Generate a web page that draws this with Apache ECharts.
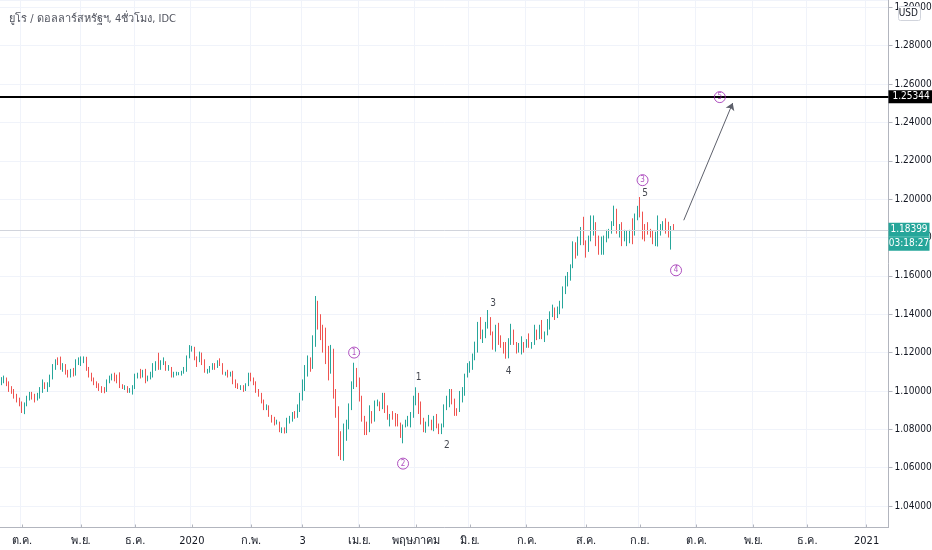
<!DOCTYPE html>
<html><head><meta charset="utf-8">
<script src="https://cdn.jsdelivr.net/npm/echarts@6/dist/echarts.min.js"></script>
<style>html,body{margin:0;padding:0;background:#fff}#c{width:932px;height:550px}</style>
</head><body><div id="c"></div>
<script>
const titleText = 'ยูโร / ดอลลาร์สหรัฐฯ, 4ชั่วโมง, IDC';
const startDate = '2019-09-19';
const totalSlots = 345;
const monthNames = ['', 'ก.พ.', '3', 'เม.ย.', 'พฤษภาคม', 'มิ.ย.', 'ก.ค.', 'ส.ค.', 'ก.ย.', 'ต.ค.', 'พ.ย.', 'ธ.ค.'];
const currencyLabel = 'USD';
const targetLevel = 1.25344;
const lastPrice = 1.18399;
const countdown = '03:18:27';

// daily [open, close, low, high]
const ohlc = [
[1.1045,1.1058,1.1030,1.1072],[1.1058,1.1066,1.1040,1.1080],[1.1066,1.1040,1.1025,1.1070],[1.1040,1.1010,1.0995,1.1050],
[1.1010,1.0998,1.0985,1.1025],[1.0998,1.0975,1.0960,1.1010],[1.0975,1.0958,1.0940,1.0985],[1.0958,1.0935,1.0920,1.0965],
[1.0935,1.0900,1.0885,1.0945],[1.0900,1.0930,1.0879,1.0940],[1.0930,1.0965,1.0920,1.0975],[1.0965,1.0980,1.0950,1.0995],
[1.0980,1.0972,1.0955,1.0995],[1.0972,1.0958,1.0940,1.0985],[1.0958,1.0975,1.0950,1.0990],[1.0975,1.1005,1.0960,1.1020],
[1.1005,1.1030,1.0990,1.1060],[1.1030,1.1025,1.1010,1.1045],[1.1025,1.1035,1.0995,1.1045],[1.1035,1.1070,1.1020,1.1085],
[1.1070,1.1125,1.1060,1.1140],[1.1125,1.1155,1.1110,1.1165],[1.1155,1.1150,1.1135,1.1175],[1.1150,1.1125,1.1110,1.1179],
[1.1125,1.1130,1.1100,1.1145],[1.1130,1.1100,1.1085,1.1140],[1.1100,1.1080,1.1070,1.1110],[1.1080,1.1100,1.1070,1.1115],
[1.1100,1.1085,1.1075,1.1120],[1.1085,1.1150,1.1080,1.1165],[1.1150,1.1152,1.1135,1.1175],[1.1152,1.1165,1.1130,1.1180],
[1.1165,1.1170,1.1145,1.1180],[1.1170,1.1120,1.1105,1.1178],[1.1120,1.1085,1.1070,1.1125],[1.1085,1.1060,1.1050,1.1095],
[1.1060,1.1040,1.1030,1.1070],[1.1040,1.1030,1.1015,1.1050],[1.1030,1.1015,1.1000,1.1040],[1.1015,1.1005,1.0990,1.1025],
[1.1005,1.1000,1.0988,1.1020],[1.1000,1.1050,1.0995,1.1060],[1.1050,1.1070,1.1040,1.1080],[1.1070,1.1075,1.1055,1.1090],
[1.1075,1.1070,1.1050,1.1095],[1.1070,1.1055,1.1040,1.1085],[1.1055,1.1025,1.1015,1.1097],[1.1025,1.1015,1.1010,1.1035],
[1.1015,1.1020,1.1005,1.1030],[1.1020,1.1000,1.0990,1.1025],[1.1000,1.1008,1.0990,1.1015],[1.1008,1.1018,1.0981,1.1030],
[1.1018,1.1080,1.1010,1.1090],[1.1080,1.1082,1.1065,1.1095],[1.1082,1.1078,1.1065,1.1115],[1.1078,1.1105,1.1070,1.1110],
[1.1105,1.1060,1.1040,1.1115],[1.1060,1.1065,1.1050,1.1080],[1.1065,1.1095,1.1060,1.1100],[1.1095,1.1130,1.1070,1.1145],
[1.1130,1.1130,1.1105,1.1155],[1.1130,1.1120,1.1110,1.1199],[1.1120,1.1145,1.1110,1.1160],[1.1145,1.1150,1.1135,1.1175],
[1.1150,1.1115,1.1105,1.1155],[1.1115,1.1120,1.1105,1.1135],[1.1120,1.1080,1.1070,1.1125],[1.1080,1.1090,1.1070,1.1100],
[1.1090,1.1090,1.1080,1.1100],[1.1090,1.1092,1.1082,1.1098],[1.1092,1.1100,1.1080,1.1105],[1.1100,1.1105,1.1090,1.1125],
[1.1105,1.1175,1.1100,1.1185],[1.1175,1.1215,1.1170,1.1239],[1.1215,1.1220,1.1205,1.1235],[1.1220,1.1170,1.1160,1.1230],
[1.1170,1.1160,1.1125,1.1180],[1.1160,1.1195,1.1150,1.1205],[1.1195,1.1150,1.1135,1.1200],[1.1150,1.1105,1.1095,1.1165],
[1.1105,1.1105,1.1090,1.1115],[1.1105,1.1120,1.1095,1.1130],[1.1120,1.1135,1.1110,1.1145],[1.1135,1.1130,1.1110,1.1145],
[1.1130,1.1150,1.1120,1.1160],[1.1150,1.1140,1.1130,1.1170],[1.1140,1.1090,1.1085,1.1145],[1.1090,1.1095,1.1080,1.1100],
[1.1095,1.1085,1.1070,1.1110],[1.1085,1.1090,1.1075,1.1100],[1.1090,1.1055,1.1035,1.1105],[1.1055,1.1025,1.1015,1.1060],
[1.1025,1.1020,1.1010,1.1040],[1.1020,1.1020,1.1005,1.1030],[1.1020,1.1010,1.0995,1.1030],[1.1010,1.1030,1.1000,1.1040],
[1.1030,1.1090,1.1025,1.1095],[1.1090,1.1060,1.1050,1.1095],[1.1060,1.1045,1.1030,1.1070],[1.1045,1.1000,1.0990,1.1050],
[1.1000,1.0980,1.0970,1.1010],[1.0980,1.0945,1.0935,1.0990],[1.0945,1.0910,1.0900,1.0955],[1.0910,1.0915,1.0900,1.0930],
[1.0915,1.0870,1.0865,1.0925],[1.0870,1.0840,1.0835,1.0875],[1.0840,1.0830,1.0820,1.0865],[1.0830,1.0835,1.0825,1.0850],
[1.0835,1.0790,1.0785,1.0840],[1.0790,1.0795,1.0780,1.0810],[1.0795,1.0785,1.0778,1.0810],[1.0785,1.0845,1.0780,1.0860],
[1.0845,1.0850,1.0830,1.0870],[1.0850,1.0880,1.0840,1.0890],[1.0880,1.0870,1.0855,1.0895],[1.0870,1.0905,1.0860,1.0930],
[1.0905,1.0960,1.0890,1.0990],[1.0960,1.1010,1.0950,1.1060],[1.1010,1.1090,1.1000,1.1135],[1.1090,1.1160,1.1075,1.1185],
[1.1160,1.1125,1.1100,1.1175],[1.1125,1.1240,1.1115,1.1290],[1.1240,1.1440,1.1230,1.1495],[1.1440,1.1380,1.1320,1.1470],
[1.1380,1.1335,1.1265,1.1400],[1.1335,1.1270,1.1200,1.1345],[1.1270,1.1200,1.1140,1.1330],[1.1200,1.1150,1.1055,1.1235],
[1.1150,1.1210,1.1090,1.1240],[1.1210,1.1000,1.0960,1.1220],[1.1000,1.0900,1.0860,1.1010],[1.0900,1.0700,1.0660,1.0920],
[1.0700,1.0690,1.0640,1.0790],[1.0690,1.0760,1.0636,1.0830],[1.0760,1.0820,1.0740,1.0850],[1.0820,1.0910,1.0800,1.0935],
[1.0910,1.1030,1.0900,1.1050],[1.1030,1.1100,1.1010,1.1147],[1.1100,1.1060,1.1020,1.1120],[1.1060,1.0960,1.0945,1.1070],
[1.0960,1.0855,1.0840,1.0975],[1.0855,1.0800,1.0770,1.0870],[1.0800,1.0795,1.0770,1.0840],[1.0795,1.0890,1.0785,1.0925],
[1.0890,1.0860,1.0830,1.0895],[1.0860,1.0935,1.0840,1.0950],[1.0935,1.0940,1.0920,1.0955],[1.0940,1.0915,1.0895,1.0945],
[1.0915,1.0975,1.0905,1.0990],[1.0975,1.0900,1.0885,1.0990],[1.0900,1.0865,1.0850,1.0925],[1.0865,1.0875,1.0815,1.0880],
[1.0875,1.0865,1.0850,1.0895],[1.0865,1.0855,1.0815,1.0885],[1.0855,1.0825,1.0815,1.0880],[1.0825,1.0780,1.0755,1.0835],
[1.0780,1.0820,1.0727,1.0825],[1.0820,1.0825,1.0810,1.0850],[1.0825,1.0825,1.0815,1.0870],[1.0825,1.0875,1.0810,1.0890],
[1.0875,1.0955,1.0860,1.0975],[1.0955,1.0985,1.0925,1.1019],[1.0985,1.0905,1.0880,1.0990],[1.0905,1.0840,1.0825,1.0945],
[1.0840,1.0795,1.0785,1.0860],[1.0795,1.0830,1.0782,1.0840],[1.0830,1.0840,1.0815,1.0875],[1.0840,1.0805,1.0795,1.0850],
[1.0805,1.0850,1.0790,1.0870],[1.0850,1.0815,1.0805,1.0880],[1.0815,1.0805,1.0775,1.0830],[1.0805,1.0820,1.0775,1.0830],
[1.0820,1.0920,1.0810,1.0930],[1.0920,1.0925,1.0900,1.0975],[1.0925,1.0975,1.0915,1.1010],[1.0975,1.0945,1.0930,1.1010],
[1.0945,1.0900,1.0870,1.0960],[1.0900,1.0895,1.0870,1.0910],[1.0895,1.0980,1.0890,1.1000],[1.0980,1.1010,1.0940,1.1020],
[1.1010,1.1075,1.0975,1.1090],[1.1075,1.1100,1.1070,1.1145],[1.1100,1.1135,1.1095,1.1155],[1.1135,1.1170,1.1110,1.1195],
[1.1170,1.1235,1.1160,1.1257],[1.1235,1.1340,1.1200,1.1360],[1.1340,1.1290,1.1270,1.1385],[1.1290,1.1295,1.1250,1.1320],
[1.1295,1.1345,1.1275,1.1360],[1.1345,1.1375,1.1325,1.1422],[1.1375,1.1300,1.1290,1.1385],[1.1300,1.1255,1.1215,1.1310],
[1.1255,1.1330,1.1205,1.1345],[1.1330,1.1265,1.1240,1.1355],[1.1265,1.1245,1.1225,1.1290],[1.1245,1.1205,1.1195,1.1255],
[1.1205,1.1175,1.1168,1.1255],[1.1175,1.1260,1.1170,1.1275],[1.1260,1.1310,1.1240,1.1350],[1.1310,1.1250,1.1240,1.1320],
[1.1250,1.1220,1.1195,1.1255],[1.1220,1.1220,1.1200,1.1250],[1.1220,1.1245,1.1190,1.1285],[1.1245,1.1235,1.1200,1.1255],
[1.1235,1.1250,1.1225,1.1270],[1.1250,1.1240,1.1225,1.1300],[1.1240,1.1245,1.1220,1.1255],[1.1245,1.1310,1.1240,1.1345],
[1.1310,1.1275,1.1265,1.1320],[1.1275,1.1330,1.1270,1.1345],[1.1330,1.1285,1.1270,1.1370],[1.1285,1.1300,1.1255,1.1310],
[1.1300,1.1340,1.1290,1.1375],[1.1340,1.1410,1.1320,1.1415],[1.1410,1.1410,1.1385,1.1450],[1.1410,1.1385,1.1370,1.1435],
[1.1385,1.1430,1.1380,1.1440],[1.1430,1.1440,1.1400,1.1470],[1.1440,1.1525,1.1430,1.1545],[1.1525,1.1570,1.1505,1.1600],
[1.1570,1.1595,1.1545,1.1620],[1.1595,1.1655,1.1575,1.1660],[1.1655,1.1750,1.1640,1.1780],[1.1750,1.1720,1.1690,1.1775],
[1.1720,1.1790,1.1705,1.1805],[1.1790,1.1845,1.1760,1.1855],[1.1845,1.1775,1.1760,1.1908],[1.1775,1.1760,1.1695,1.1785],
[1.1760,1.1800,1.1725,1.1810],[1.1800,1.1860,1.1780,1.1915],[1.1860,1.1875,1.1810,1.1915],[1.1875,1.1790,1.1755,1.1880],
[1.1790,1.1735,1.1710,1.1810],[1.1735,1.1740,1.1710,1.1805],[1.1740,1.1785,1.1710,1.1810],[1.1785,1.1810,1.1775,1.1840],
[1.1810,1.1840,1.1795,1.1845],[1.1840,1.1870,1.1820,1.1885],[1.1870,1.1930,1.1860,1.1966],[1.1930,1.1835,1.1820,1.1950],
[1.1835,1.1860,1.1800,1.1870],[1.1860,1.1795,1.1755,1.1880],[1.1795,1.1795,1.1780,1.1840],[1.1795,1.1830,1.1755,1.1835],
[1.1830,1.1830,1.1770,1.1840],[1.1830,1.1820,1.1765,1.1900],[1.1820,1.1905,1.1810,1.1925],[1.1905,1.1935,1.1890,1.1965],
[1.1935,1.1915,1.1905,1.2011],[1.1915,1.1855,1.1790,1.1935],[1.1855,1.1850,1.1780,1.1870],[1.1850,1.1840,1.1815,1.1880],
[1.1840,1.1815,1.1800,1.1845],[1.1815,1.1780,1.1765,1.1835],[1.1780,1.1800,1.1755,1.1830],[1.1800,1.1815,1.1753,1.1915],
[1.1815,1.1845,1.1810,1.1870],[1.1845,1.1865,1.1835,1.1885],[1.1865,1.1845,1.1820,1.1900],[1.1845,1.1815,1.1800,1.1882],
[1.1815,1.1850,1.1737,1.1860],[1.1850,1.18399,1.1835,1.1870]
];

// wave labels: [slot index, price, text]
const circledLabels = [[137,1.1200,'1'],[156,1.0621,'2'],[249,1.2099,'3'],[262,1.1629,'4'],[279,1.2532,'5']];
const subLabels = [[162,1.1070,'1'],[173,1.0715,'2'],[191,1.1456,'3'],[197,1.1101,'4'],[250,1.2031,'5']];
const arrowPath = [[265,1.1890],[284,1.2501]];

// calendar of trading days (weekdays)
const dates = [];
(function(){
  const d = new Date(startDate + 'T00:00:00Z');
  while (dates.length < totalSlots) {
    const w = d.getUTCDay();
    if (w !== 0 && w !== 6) dates.push(d.toISOString().slice(0,10));
    d.setUTCDate(d.getUTCDate() + 1);
  }
})();
function isMonthStart(i){
  if (i === 0) return false;
  return dates[i].slice(5,7) !== dates[i-1].slice(5,7);
}
function monthLabel(v){
  const m = parseInt(v.slice(5,7),10) - 1;
  return m === 0 ? v.slice(0,4) : monthNames[m];
}

const FONT = "'Liberation Sans Narrow', 'DejaVu Sans Condensed', 'Roboto Condensed', Roboto, 'Noto Sans', sans-serif";
const chart = echarts.init(document.getElementById('c'));
chart.setOption({
  animation: false,
  backgroundColor: '#ffffff',
  title: { text: titleText, left: 4, top: 9, textStyle: { fontSize: 11, fontWeight: 'normal', color: '#50535e', fontFamily: FONT } },
  grid: { left: 0, right: 43.5, top: 0, bottom: 22.5, outerBoundsMode: 'none', containLabel: false },
  xAxis: {
    type: 'category', data: dates, boundaryGap: true,
    axisLine: { show: true, lineStyle: { color: '#b2b5be' } },
    axisTick: { show: true, alignWithLabel: true, interval: isMonthStart, length: 3, inside: true, lineStyle: { color: '#b2b5be' } },
    axisLabel: { interval: isMonthStart, formatter: monthLabel, color: '#131722', fontSize: 11, margin: 8, fontFamily: FONT },
    splitLine: { show: true, interval: isMonthStart, lineStyle: { color: '#f0f3fa' } }
  },
  yAxis: {
    type: 'value', position: 'right', min: 1.0288, max: 1.30383, minInterval: 0.02, maxInterval: 0.02,
    axisLine: { show: true, lineStyle: { color: '#b2b5be' } },
    axisTick: { show: true, length: 4, lineStyle: { color: '#b2b5be' } },
    axisLabel: { showMinLabel: false, showMaxLabel: false, formatter: v => v.toFixed(5), color: '#131722', fontSize: 10, margin: 6, fontFamily: FONT },
    splitLine: { show: true, lineStyle: { color: '#f0f3fa' } }
  },
  series: [
    {
      type: 'line', data: [], silent: true, symbol: 'none',
      markLine: {
        silent: true, symbol: 'none', animation: false, precision: 5,
        data: [
          { yAxis: lastPrice, lineStyle: { color: '#d1d4dc', width: 1, type: 'solid' }, label: { show: false } },
          { yAxis: targetLevel, lineStyle: { color: '#000000', width: 2, type: 'solid' },
            label: { show: true, position: 'end', distance: 0, formatter: targetLevel.toFixed(5), color: '#ffffff', backgroundColor: '#000000', padding: [2, 4, 1, 4], fontSize: 10, fontFamily: FONT } }
        ]
      }
    },
    {
      type: 'candlestick', data: ohlc, barWidth: '50%',
      itemStyle: { color: '#26a69a', color0: '#ef5350', borderColor: '#26a69a', borderColor0: '#ef5350', borderWidth: 1 }
    },
    {
      type: 'scatter', data: circledLabels, symbol: 'circle', symbolSize: 11, silent: true,
      itemStyle: { color: 'rgba(255,255,255,0)', borderColor: '#9c27b0', borderWidth: 1 },
      label: { show: true, position: 'inside', formatter: p => p.data[2], color: '#9c27b0', fontSize: 8, fontFamily: FONT },
      z: 5
    },
    {
      type: 'scatter', data: subLabels, symbolSize: 0, silent: true,
      label: { show: true, position: 'inside', formatter: p => p.data[2], color: '#131722', fontSize: 10, fontFamily: FONT },
      z: 5
    },
    {
      type: 'lines', coordinateSystem: 'cartesian2d', silent: true,
      data: [{ coords: arrowPath }],
      symbol: ['none', 'arrow'], symbolSize: 7,
      lineStyle: { color: '#5d606b', width: 1, opacity: 1 },
      z: 5
    }
  ],
  graphic: [
    { type: 'rect', id: 'usdbox', right: 11, top: 6, shape: { width: 22, height: 14, r: 2 }, style: { fill: '#ffffff', stroke: '#d1d4dc' }, z: 100 },
    { type: 'text', id: 'usdtxt', right: 14, top: 8, style: { text: currencyLabel, fontSize: 10, fill: '#131722', fontFamily: FONT }, z: 101 }
  ]
});

const py = chart.convertToPixel({ yAxisIndex: 0 }, lastPrice);
const bx = chart.getWidth() - 43.5;
chart.setOption({
  graphic: [
    { type: 'rect', id: 'pbox', x: bx, y: py - 7, shape: { width: 41, height: 28 }, style: { fill: '#26a69a' }, z: 100 },
    { type: 'line', id: 'psep', x: bx, y: py + 7, shape: { x1: 0, y1: 0, x2: 41, y2: 0 }, style: { stroke: '#5cc2b6', lineWidth: 1 }, z: 101 },
    { type: 'text', id: 'ptxt', x: bx + 20.5, y: py, style: { text: lastPrice.toFixed(5), fontSize: 10, fill: '#ffffff', align: 'center', verticalAlign: 'middle', fontFamily: FONT }, z: 102 },
    { type: 'text', id: 'ctxt', x: bx + 20.5, y: py + 14, style: { text: countdown, fontSize: 10, fill: '#ffffff', align: 'center', verticalAlign: 'middle', fontFamily: FONT }, z: 102 }
  ]
});
</script>
</body></html>
